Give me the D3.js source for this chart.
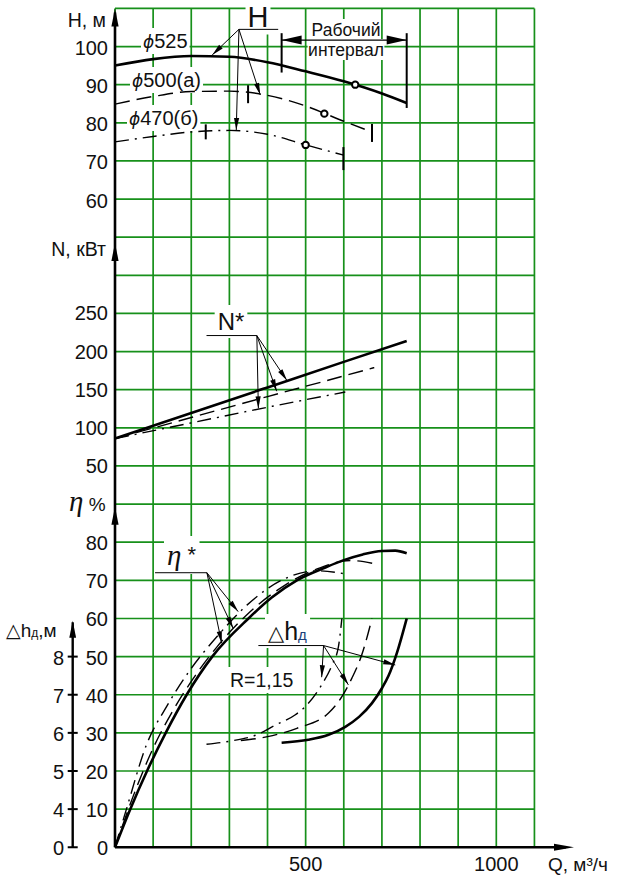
<!DOCTYPE html>
<html>
<head>
<meta charset="utf-8">
<script src="https://cdn.jsdelivr.net/npm/d3@7"></script>
<style>
  body { margin: 0; background: #fff; }
  svg text { font-family: "Liberation Sans", Arial, sans-serif; fill: #111; }
</style>
</head>
<body>
<svg id="chart" width="625" height="891"></svg>
<script>
// ---- tick labels ----
const qTicks = [500, 1000];
const hTicks = [100, 90, 80, 70, 60];
const nTicks = [250, 200, 150, 100, 50];
const etaTicks = [80, 70, 60, 50, 40, 30, 20, 10, 0];
const dhTicks = [8, 7, 6, 5, 4, 0];

// ---- head H(Q), м, for three impeller diameters ----
const q525 = [0, 100, 200, 300, 400, 500, 600, 700, 765];
const h525 = [95.0, 96.7, 97.5, 97.3, 95.9, 93.5, 90.9, 87.7, 85.2];
const q500 = [0, 100, 200, 300, 400, 500, 600, 674];
const h500 = [84.9, 86.9, 88.2, 88.3, 87.2, 84.4, 80.4, 77.6];
const q470 = [0, 100, 200, 300, 400, 500, 600];
const h470 = [75.0, 76.4, 77.6, 78.0, 77.0, 74.2, 71.5];

// working interval limits (Q) and optimum points
const work525 = [437, 765];
const work500 = [349, 674];
const work470 = [238, 599];
const bestQ = [630, 549, 500];
const bestH = [90.0, 82.4, 74.2];

// ---- power N(Q), кВт ----
const qN525 = [0, 200, 400, 600, 765];
const n525 = [86, 119.5, 153, 186.5, 214];
const qN500 = [0, 200, 400, 600, 680];
const n500 = [86, 113.5, 141, 168, 179];
const qN470 = [0, 200, 400, 604];
const n470 = [86, 106.5, 127, 147];

// ---- efficiency η(Q), % ----
const qE525 = [0, 40, 84, 133, 188, 255, 350, 411, 477, 550, 600, 650, 700, 735, 765];
const e525 = [0, 10, 20, 30, 40, 50, 60, 65.5, 70, 73.3, 75.3, 76.8, 77.7, 77.8, 77.1];
const qE500 = [0, 50, 100, 150, 200, 267, 346, 442, 530, 617, 678];
const e500 = [0, 14, 26, 35.5, 43.5, 52.5, 61, 68.5, 73, 75.2, 74.4];
const qE470 = [0, 30, 83, 136, 197, 267, 346, 442, 530, 604];
const e470 = [0, 10, 27, 37, 46.5, 55.2, 63.5, 70.3, 72.5, 71.7];

// ---- required NPSH Δhд(Q), м ----
const qD525 = [437, 507, 560, 604, 640, 674, 700, 717, 740, 765];
const d525 = [5.74, 5.82, 5.95, 6.16, 6.42, 6.78, 7.17, 7.49, 8.12, 9.0];
const qD500 = [330, 400, 477, 560, 595, 621, 647, 674];
const d500 = [5.8, 5.9, 6.12, 6.52, 6.95, 7.43, 8.04, 9.0];
const qD470 = [240, 300, 372, 420, 472, 500, 542, 570, 586, 595];
const d470 = [5.7, 5.78, 5.95, 6.2, 6.47, 6.7, 7.26, 7.8, 8.26, 9.0];

// ---- frame ----
const gLeft = 115, gTop = 8.4, cell = 38.13, cols = 11, rows = 22;
const rowY = r => gTop + r * cell;

const x = d3.scaleLinear().domain([0, 1100]).range([gLeft, gLeft + cols * cell]);
const yH = d3.scaleLinear().domain([110, 60]).range([rowY(0), rowY(5)]);
const yN = d3.scaleLinear().domain([250, 0]).range([rowY(8), rowY(13)]);
const yE = d3.scaleLinear().domain([80, 0]).range([rowY(14), rowY(22)]);
const yD = d3.scaleLinear().domain([0, 4, 8]).range([rowY(22), rowY(21), rowY(17)]);

const svg = d3.select("#chart");
const GREEN = "#17901a";

// grid
const grid = svg.append("g").attr("stroke", GREEN).attr("stroke-width", 1.7);
grid.selectAll("line.v").data(d3.range(0, 1101, 100)).join("line")
  .attr("x1", d => x(d)).attr("x2", d => x(d))
  .attr("y1", rowY(0)).attr("y2", rowY(rows));
grid.selectAll("line.h").data(d3.range(0, rows + 1)).join("line")
  .attr("x1", x(0)).attr("x2", x(1100))
  .attr("y1", d => rowY(d)).attr("y2", d => rowY(d));

// white-backed text helper
function label(parent, px, py, parts, opt = {}) {
  const g = parent.append("g");
  const t = g.append("text").attr("x", px).attr("y", py)
    .attr("text-anchor", opt.anchor || "start")
    .attr("font-size", opt.size || 19);
  parts.forEach(p => {
    const s = t.append("tspan").text(p.t);
    if (p.size) s.attr("font-size", p.size);
    if (p.family) s.style("font-family", p.family);
    if (p.italic) s.attr("font-style", "italic");
    if (p.dy) s.attr("dy", p.dy);
    if (p.fill) s.style("fill", p.fill);
    if (p.dx) s.attr("dx", p.dx);
  });
  if (opt.bg) {
    const b = t.node().getBBox();
    const pad = opt.pad || 2;
    const y0 = Math.max(0, b.y - pad);
    g.insert("rect", "text").attr("x", b.x - pad).attr("y", y0)
      .attr("width", b.width + 2 * pad).attr("height", b.y + b.height + pad - y0)
      .attr("fill", "#fff");
  }
  return t;
}

function arrowHead(parent, x1, y1, x2, y2, len, half) {
  const a = Math.atan2(y2 - y1, x2 - x1);
  const bx = x2 - len * Math.cos(a), by = y2 - len * Math.sin(a);
  const nx = -Math.sin(a) * half, ny = Math.cos(a) * half;
  parent.append("path")
    .attr("d", `M${x2},${y2}L${bx + nx},${by + ny}L${bx - nx},${by - ny}Z`)
    .attr("fill", "#000");
}
function leader(parent, x1, y1, x2, y2) {
  parent.append("line").attr("x1", x1).attr("y1", y1).attr("x2", x2).attr("y2", y2)
    .attr("stroke", "#000").attr("stroke-width", 1);
  arrowHead(parent, x1, y1, x2, y2, 12, 2.6);
}

// curve styles
const SOLID = { w: 2.6, dash: null };
const DASH = { w: 1.4, dash: "15,7" };
const DASHDOT = { w: 1.4, dash: "14,6,2,6" };

function curve(qs, vs, ys, st) {
  const pts = qs.map((q, i) => [x(q), ys(vs[i])]);
  svg.append("path")
    .attr("d", d3.line().curve(d3.curveMonotoneX)(pts))
    .attr("fill", "none").attr("stroke", "#000")
    .attr("stroke-width", st.w)
    .attr("stroke-dasharray", st.dash)
    .attr("stroke-linecap", "butt");
}
const interp = (qs, vs) => q => {
  for (let i = 1; i < qs.length; i++) if (q <= qs[i]) {
    const t = (q - qs[i - 1]) / (qs[i] - qs[i - 1]);
    return vs[i - 1] + t * (vs[i] - vs[i - 1]);
  }
  return vs[vs.length - 1];
};

// ---- labels with white background (drawn under curves) ----
const ann = svg.append("g");
label(ann, 143, 48, [{ t: "ϕ", family: "DejaVu Sans", italic: true, size: 17 }, { t: "525", size: 20 }], { bg: true });
label(ann, 132, 87, [{ t: "ϕ", family: "DejaVu Sans", italic: true, size: 17 }, { t: "500(а)", size: 20 }], { bg: true });
label(ann, 129, 125, [{ t: "ϕ", family: "DejaVu Sans", italic: true, size: 17 }, { t: "470(б)", size: 20 }], { bg: true });
label(ann, 258, 26.5, [{ t: "H" }], { size: 29, anchor: "middle", bg: true, pad: 2 });
label(ann, 346, 35.5, [{ t: "Рабочий" }], { size: 17.5, anchor: "middle", bg: true, pad: 0.5 });
label(ann, 346, 55.5, [{ t: "интервал" }], { size: 17.5, anchor: "middle", bg: true, pad: 0.5 });
label(ann, 231, 330, [{ t: "N*" }], { size: 24, anchor: "middle", bg: true, pad: 3 });
label(ann, 167, 565, [{ t: "η", italic: true, family: "Liberation Serif", size: 29 }, { t: " *", size: 22, dy: -3 }], { bg: true, pad: 3 });
label(ann, 268, 640, [{ t: "△", family: "DejaVu Sans", size: 21 }, { t: "h", size: 25 }, { t: "д", size: 15, fill: "#1b3f7a" }], { bg: true, pad: 3 });
label(ann, 230, 687, [{ t: "R=1,15" }], { size: 19.5, bg: true, pad: 2 });

// ---- curves ----
curve(q525, h525, yH, SOLID);
curve(q500, h500, yH, DASH);
curve(q470, h470, yH, DASHDOT);
curve(qN525, n525, yN, SOLID);
curve(qN500, n500, yN, DASH);
curve(qN470, n470, yN, DASHDOT);
curve(qE525, e525, yE, SOLID);
curve(qE500, e500, yE, DASH);
curve(qE470, e470, yE, DASHDOT);
curve(qD525, d525, yD, SOLID);
curve(qD500, d500, yD, DASH);
curve(qD470, d470, yD, DASHDOT);

// working interval bars on head curves
const bars = svg.append("g").attr("stroke", "#000").attr("stroke-width", 2);
const hf500 = interp(q500, h500), hf470 = interp(q470, h470);
work500.forEach(q => bars.append("line").attr("x1", x(q)).attr("x2", x(q))
  .attr("y1", yH(hf500(q)) - 8).attr("y2", yH(hf500(q)) + 10));
work470.forEach((q, i) => bars.append("line").attr("x1", x(q)).attr("x2", x(q))
  .attr("y1", yH(hf470(q)) - (i ? 8 : 7)).attr("y2", yH(hf470(q)) + (i ? 15 : 8)));
// φ525 interval with dimension line
const hf525 = interp(q525, h525);
bars.append("line").attr("x1", x(work525[0])).attr("x2", x(work525[0]))
  .attr("y1", yH(103.5)).attr("y2", yH(hf525(work525[0])) + 7);
bars.append("line").attr("x1", x(work525[1])).attr("x2", x(work525[1]))
  .attr("y1", yH(103.5)).attr("y2", yH(hf525(work525[1])) + 5);
svg.append("line").attr("x1", x(work525[0])).attr("x2", x(work525[1]))
  .attr("y1", yH(101.7)).attr("y2", yH(101.7)).attr("stroke", "#000").attr("stroke-width", 1.2);
arrowHead(svg, x(work525[1]), yH(101.7), x(work525[0]), yH(101.7), 20, 4.5);
arrowHead(svg, x(work525[0]), yH(101.7), x(work525[1]), yH(101.7), 20, 4.5);

// optimum points
svg.selectAll("circle.best").data(bestQ).join("circle")
  .attr("cx", d => x(d)).attr("cy", (d, i) => yH(bestH[i])).attr("r", 3.2)
  .attr("fill", "#fff").attr("stroke", "#000").attr("stroke-width", 2);

// ---- leaders ----
const L = svg.append("g");
// H
L.append("line").attr("x1", x(325)).attr("x2", x(428)).attr("y1", yH(104.5)).attr("y2", yH(104.5)).attr("stroke", "#000");
leader(L, x(325), yH(104.5), x(255), yH(97.8));
leader(L, x(325), yH(104.5), x(381), yH(87.3));
leader(L, x(325), yH(104.5), x(318), yH(78.1));
// N*
L.append("line").attr("x1", x(240)).attr("x2", x(372)).attr("y1", yN(221)).attr("y2", yN(221)).attr("stroke", "#000");
leader(L, x(372), yN(221), x(376), yN(125.5));
leader(L, x(372), yN(221), x(424), yN(148));
leader(L, x(372), yN(221), x(451), yN(162));
// η*
L.append("line").attr("x1", x(105)).attr("x2", x(241)).attr("y1", yE(72)).attr("y2", yE(72)).attr("stroke", "#000");
leader(L, x(241), yE(72), x(323), yE(61.8));
leader(L, x(241), yE(72), x(310), yE(57.4));
leader(L, x(241), yE(72), x(280), yE(53.5));
// Δhд
L.append("line").attr("x1", x(376)).attr("x2", x(547)).attr("y1", yD(8.29)).attr("y2", yD(8.29)).attr("stroke", "#000");
leader(L, x(547), yD(8.29), x(542), yD(7.46));
leader(L, x(547), yD(8.29), x(612), yD(7.26));
leader(L, x(547), yD(8.29), x(735), yD(7.78));

// ---- axes ----
const ax = svg.append("g");
ax.append("line").attr("x1", x(0)).attr("x2", x(0)).attr("y1", rowY(22)).attr("y2", rowY(0) + 4)
  .attr("stroke", "#000").attr("stroke-width", 2.6);
[rowY(0), rowY(6.15), rowY(13.07)].forEach(ty =>
  arrowHead(ax, x(0), ty + 30, x(0), ty, 18, 3.6));
ax.append("line").attr("x1", x(0)).attr("x2", 566).attr("y1", rowY(22)).attr("y2", rowY(22))
  .attr("stroke", "#000").attr("stroke-width", 2.6);
arrowHead(ax, 540, rowY(22), 574, rowY(22), 20, 3.6);

// Δh axis
const dx0 = 72.7;
ax.append("line").attr("x1", dx0).attr("x2", dx0).attr("y1", yD(0)).attr("y2", yD(8.9))
  .attr("stroke", "#000").attr("stroke-width", 2.4);
arrowHead(ax, dx0, yD(8), dx0, yD(8.94), 17, 3.4);
ax.selectAll("line.dt").data(dhTicks).join("line")
  .attr("x1", dx0 - 5).attr("x2", dx0 + 5)
  .attr("y1", d => yD(d)).attr("y2", d => yD(d))
  .attr("stroke", "#000").attr("stroke-width", 2);

// tick labels
const tl = svg.append("g").attr("font-size", 20).attr("text-anchor", "end");
hTicks.forEach(v => tl.append("text").attr("x", 108).attr("y", yH(v) + 8.5).text(v));
nTicks.forEach(v => tl.append("text").attr("x", 108).attr("y", yN(v) + 7).text(v));
etaTicks.forEach(v => tl.append("text").attr("x", 108).attr("y", yE(v) + 8).text(v));
dhTicks.forEach(v => tl.append("text").attr("x", 64).attr("y", yD(v) + 8).text(v));
qTicks.forEach(v => svg.append("text").attr("x", x(v)).attr("y", 871)
  .attr("text-anchor", "middle").attr("font-size", 20).text(v));

// axis titles
svg.append("text").attr("x", 106).attr("y", 27).attr("text-anchor", "end").attr("font-size", 19.5).text("H, м");
svg.append("text").attr("x", 106).attr("y", 256).attr("text-anchor", "end").attr("font-size", 19.5).text("N, кВт");
const et = svg.append("text").attr("x", 69).attr("y", 511).attr("font-size", 18);
et.append("tspan").text("η").attr("font-style", "italic").style("font-family", "Liberation Serif").attr("font-size", 29);
et.append("tspan").text(" %").attr("font-size", 19);
const dt = svg.append("text").attr("x", 6).attr("y", 637).attr("font-size", 19);
dt.append("tspan").text("△").style("font-family", "DejaVu Sans").attr("font-size", 19);
dt.append("tspan").text("h");
dt.append("tspan").text("д").attr("font-size", 12);
dt.append("tspan").text(",м");
svg.append("text").attr("x", 548).attr("y", 871).attr("font-size", 19).text("Q, м³/ч");
</script>
</body>
</html>
